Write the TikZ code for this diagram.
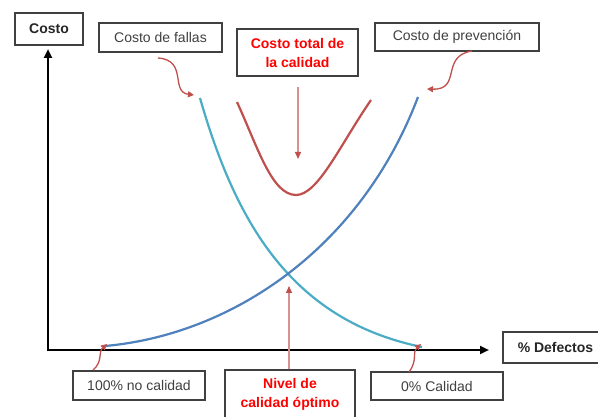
\documentclass[tikz,border=0pt]{standalone}
\usepackage{fontspec}
\setmainfont{Liberation Sans}
\usetikzlibrary{arrows.meta}
\definecolor{boxgray}{HTML}{404040}
\definecolor{txtgray}{HTML}{404040}
\definecolor{teal1}{HTML}{4BACC6}
\definecolor{blue1}{HTML}{4F81BD}
\definecolor{red1}{HTML}{C0504D}
\definecolor{pink1}{HTML}{D99090}
\definecolor{brightred}{HTML}{FF0000}
\tikzset{
  lbox/.style={draw=boxgray, line width=1.5pt, inner sep=0pt, rectangle,
    font=\fontsize{14}{19}\selectfont, text=txtgray, align=center},
  boldbox/.style={lbox, font=\fontsize{14}{19}\selectfont\bfseries, text=black!85},
  redbox/.style={lbox, font=\fontsize{14}{19}\selectfont\bfseries, text=brightred},
  axisline/.style={line width=2.5pt, black, -{Triangle[length=9pt,width=8pt]}},
  curve/.style={line width=2.2pt},
  callout/.style={line width=1.3pt, red1, -{Triangle[length=6pt,width=6pt]}},
  vcallout/.style={line width=1.4pt, pink1, -{Triangle[length=7pt,width=6pt,color=red1]}},
}
\begin{document}
\begin{tikzpicture}[x=1pt,y=-1pt]
\clip (0,0) rectangle (598,417);
\fill[white] (0,0) rectangle (598,417);

% boxes
\node[boldbox, minimum width=68pt, minimum height=32pt] (costo) at (49,29) {Costo};
\node[lbox, minimum width=123pt, minimum height=29pt] (fallas) at (160.5,37.5) {Costo de fallas};
\node[redbox, minimum width=121pt, minimum height=47pt] (total) at (297.5,52.5) {Costo total de\\la calidad};
\node[lbox, minimum width=164pt, minimum height=28pt] (prev) at (457,37) {Costo de prevención};
\node[lbox, minimum width=132pt, minimum height=29pt] (nocal) at (139,385.5) {100\% no calidad};
\node[redbox, minimum width=130pt, minimum height=49pt] (nivel) at (290,394.5) {Nivel de\\calidad óptimo};
\node[lbox, minimum width=132pt, minimum height=28pt] (cal0) at (437,386) {0\% Calidad};
\node[boldbox, minimum width=105pt, minimum height=31pt] (defect) at (555.5,347.5) {\% Defectos};

% axes
\coordinate (O) at (48,350);
\coordinate (ytip) at (48,49);
\coordinate (xtip) at (489,350);
\draw[axisline] (48,351.25) -- (ytip);
\draw[axisline] (46.75,350) -- (xtip);

% curves
\coordinate (tA) at (200,98);
\coordinate (tB) at (422,347);
\coordinate (bA) at (105,346);
\coordinate (bB) at (418,97);
\coordinate (rA) at (237,102);
\coordinate (rM) at (296,195);
\coordinate (rB) at (371,100);
\draw[curve, teal1] (tA) .. controls (235,220) and (290,320) .. (tB);
\draw[curve, blue1] (bA) .. controls (230,335) and (360,250) .. (bB);
\draw[curve, red1] (rA) .. controls (258,148) and (272,195) .. (rM) .. controls (318,195) and (340,145) .. (rB);

% callouts
\coordinate (f0) at (158,58);
\coordinate (f1) at (194,95);
\draw[callout] (f0) .. controls (188,60) and (170,92) .. (f1);
\coordinate (p0) at (472,51);
\coordinate (p1) at (427,89);
\draw[callout] (p0) .. controls (440,56) and (462,90) .. (p1);
\coordinate (n0) at (93,370);
\coordinate (n1) at (107,344);
\draw[callout] (n0) .. controls (103,362) and (98,352) .. (n1);
\coordinate (c0) at (409,372);
\coordinate (c1) at (421,344);
\draw[callout] (c0) .. controls (418,360) and (412,352) .. (c1);

\coordinate (t0) at (298,87);
\coordinate (t1) at (298,159);
\draw[vcallout] (t0) -- (t1);
\coordinate (v1) at (289,286);
\draw[vcallout] (nivel.north -| v1) -- (v1);
\end{tikzpicture}
\end{document}
